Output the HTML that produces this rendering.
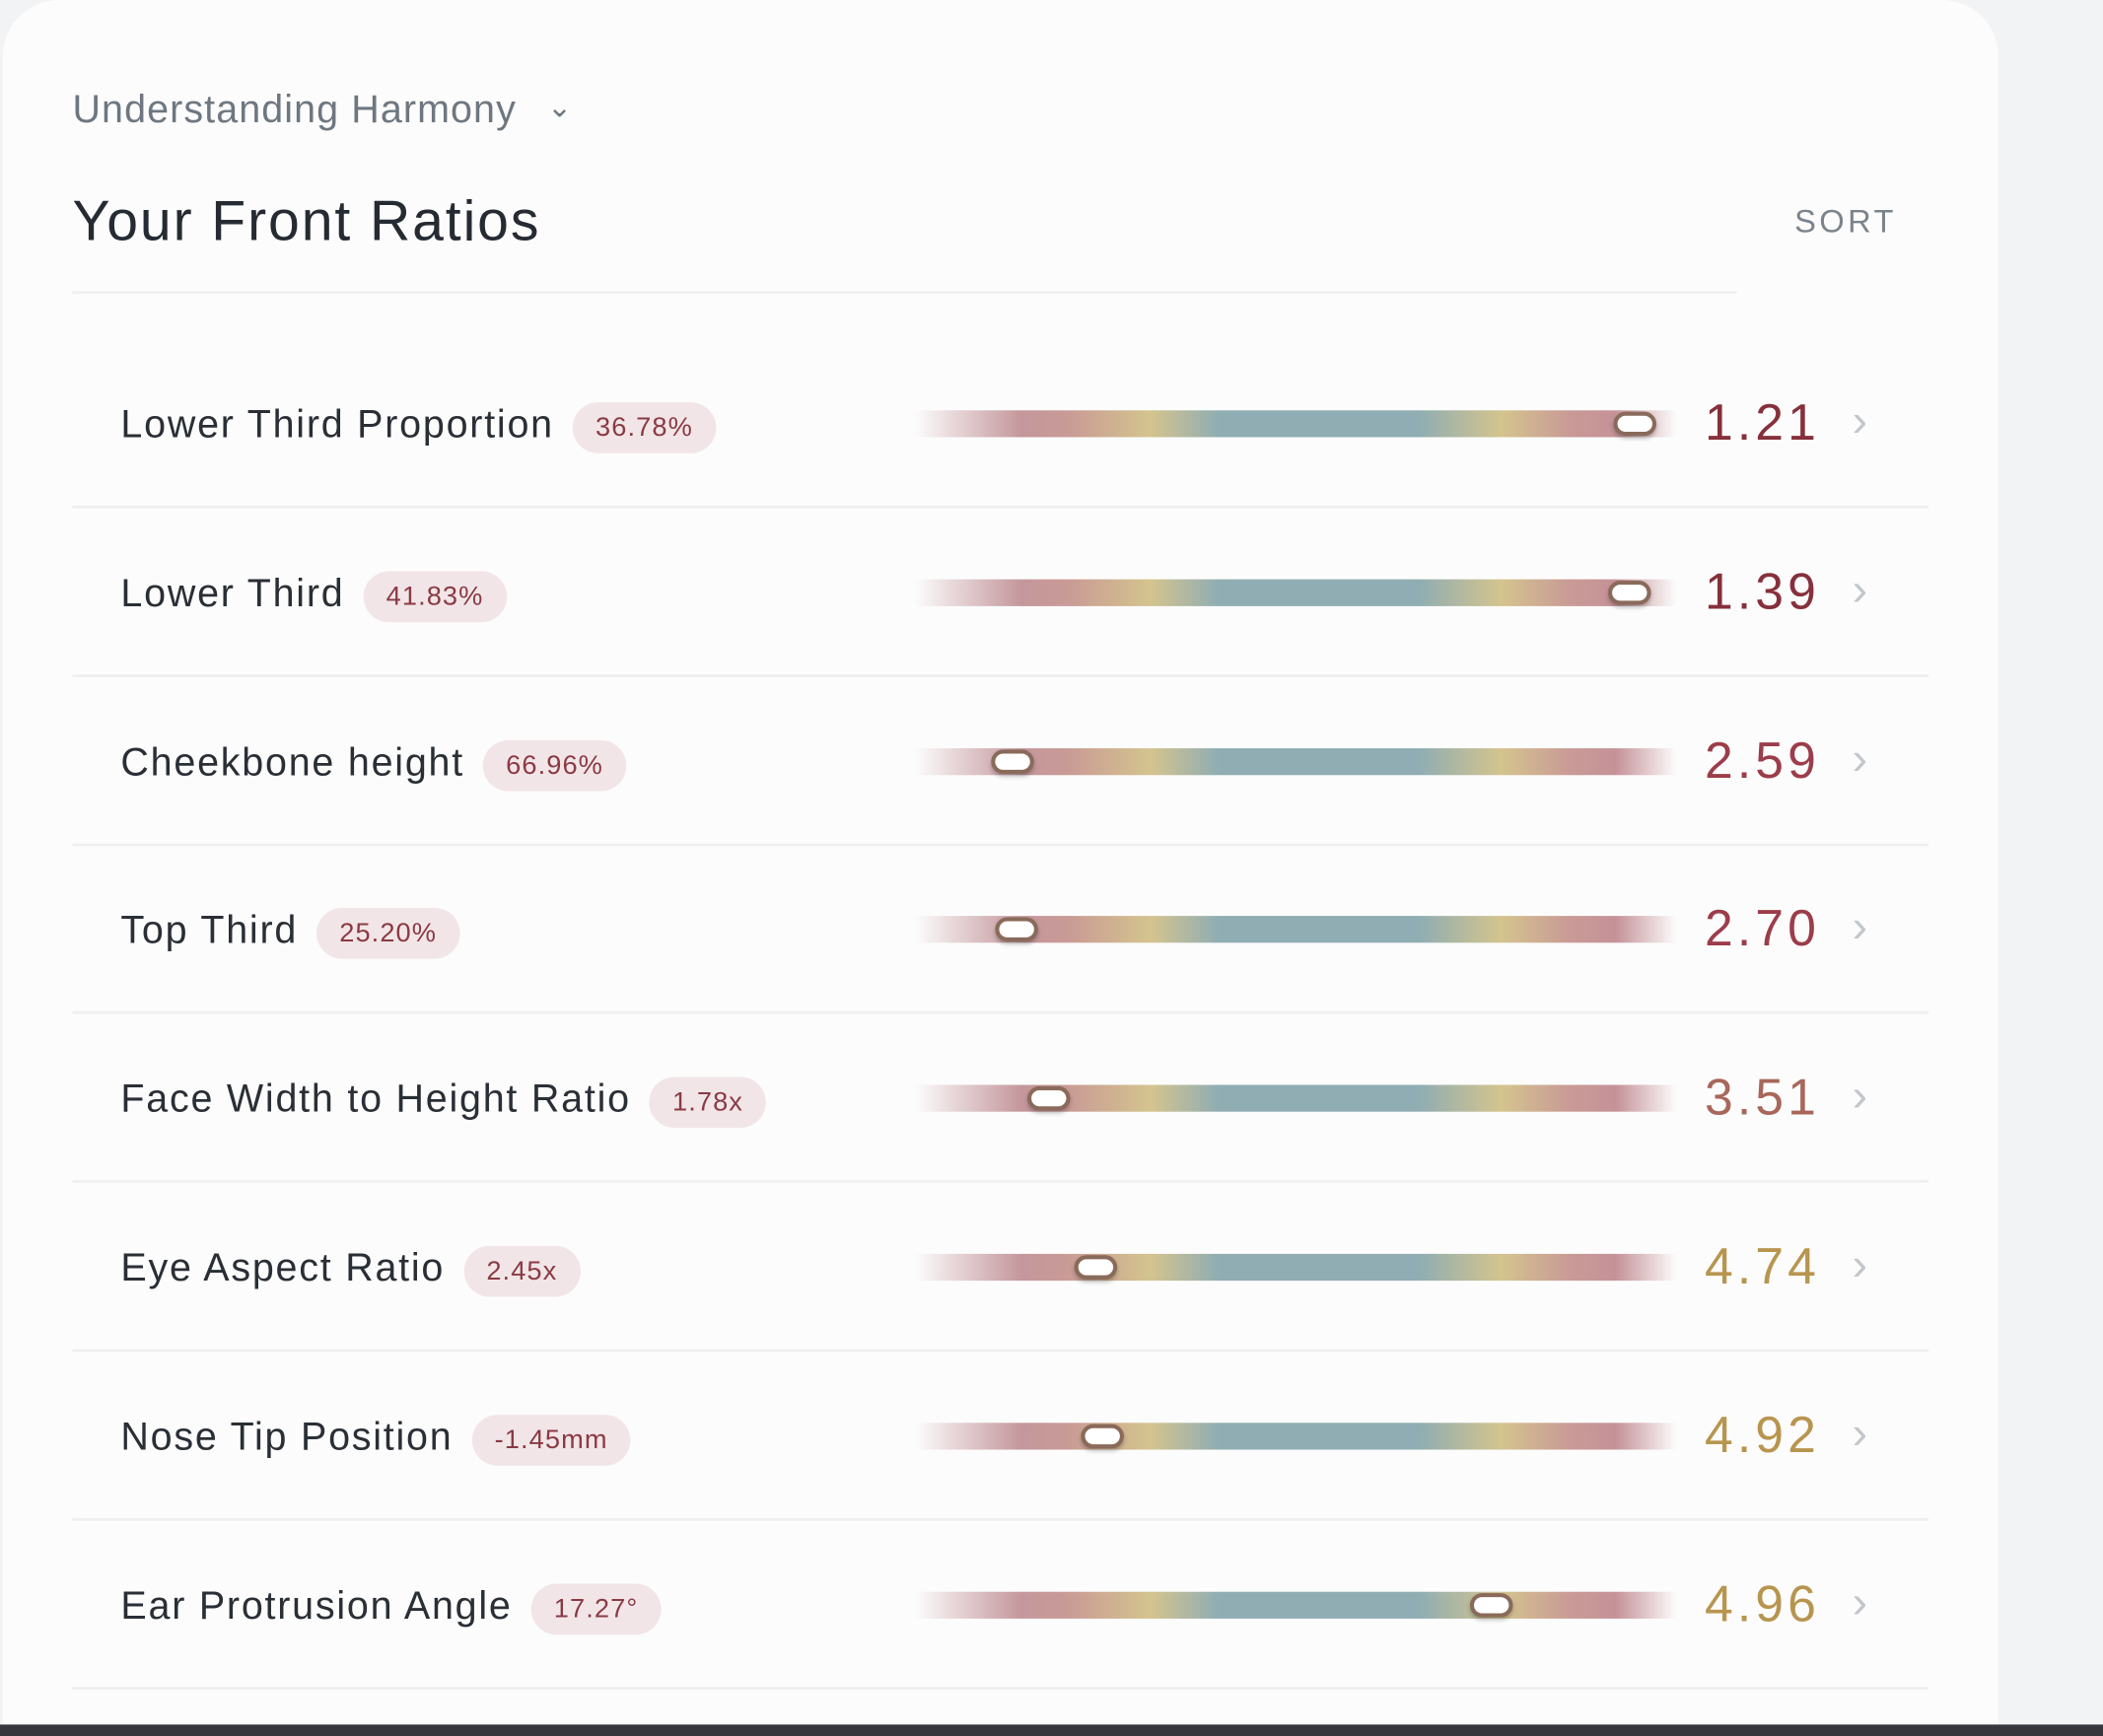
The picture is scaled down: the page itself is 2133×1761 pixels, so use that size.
<!DOCTYPE html>
<html><head><meta charset="utf-8"><style>
html,body{margin:0;padding:0;}
html{width:2133px;height:1761px;overflow:hidden;}
body{width:2133px;height:1761px;overflow:hidden;background:#f2f3f5;position:relative;font-family:"Liberation Sans",sans-serif;}
#w{position:absolute;left:0;top:0;width:1568px;height:1295px;overflow:hidden;transform:scale(1.36033);transform-origin:0 0;}
.card{position:absolute;left:2px;top:0px;width:1488px;height:1330px;background:#fcfcfc;border-radius:42px;}
.bot{position:absolute;left:0;top:1286px;width:1568px;height:9px;background:#36363c;}
.t{position:absolute;white-space:nowrap;}
.hd{left:54px;top:66px;font-size:29px;color:#6e7780;letter-spacing:0.8px;}
.h1{left:54px;top:141px;font-size:42px;color:#262b33;letter-spacing:1.4px;}
.sort{left:1338px;top:152px;font-size:24px;letter-spacing:2.5px;color:#7b848c;}
.dv{position:absolute;height:2px;background:#efefef;}
.row{position:absolute;left:0;width:1568px;height:40px;}
.lab{position:absolute;left:90px;top:1px;height:40px;line-height:40px;font-size:29px;color:#2a2f36;white-space:nowrap;letter-spacing:1.3px;}
.pill{display:inline-block;vertical-align:middle;margin-left:14px;height:38px;line-height:38px;padding:0 17px;border-radius:19px;background:#f2e5e7;color:#8a3a44;font-size:20px;letter-spacing:.8px;position:relative;top:1px;}
.bar{position:absolute;left:682px;top:10px;width:568px;height:20px;background:linear-gradient(90deg,rgba(200,150,158,0) 0%,#c4979c 14%,#c99a96 20%,#d4c48e 31%,#8fadb3 40%,#8fadb3 66%,#d4c48e 77%,#c99a96 86%,#c59298 92%,rgba(200,150,158,0) 100%);}
.knob{position:absolute;top:11px;width:26px;height:12px;border:3px solid #8a6a5a;border-radius:10px;background:#fff;box-shadow:0 2px 3px rgba(0,0,0,.25);}
.val{position:absolute;right:211px;top:-4px;font-size:38px;letter-spacing:3px;line-height:48px;}
.chev{position:absolute;left:1381px;top:0px;font-size:34px;color:#c3c7cb;line-height:36px;}
</style></head><body><div id="w">
<div class="card"></div>
<div class="t hd">Understanding Harmony <span style="font-size:22px;margin-left:14px;position:relative;top:-4px">&#8964;</span></div>
<div class="t h1">Your Front Ratios</div>
<div class="t sort">SORT</div>
<div class="dv" style="left:54px;top:217px;width:1241px"></div>

<div class="row" style="top:296px"><div class="lab">Lower Third Proportion<span class="pill">36.78%</span></div><div class="bar"></div><div class="knob" style="left:1203px"></div><div class="val" style="color:#86303b">1.21</div><div class="chev">›</div></div>
<div class="dv" style="left:54px;top:377px;width:1384px"></div>
<div class="row" style="top:422px"><div class="lab">Lower Third<span class="pill">41.83%</span></div><div class="bar"></div><div class="knob" style="left:1199px"></div><div class="val" style="color:#86303b">1.39</div><div class="chev">›</div></div>
<div class="dv" style="left:54px;top:503px;width:1384px"></div>
<div class="row" style="top:548px"><div class="lab">Cheekbone height<span class="pill">66.96%</span></div><div class="bar"></div><div class="knob" style="left:739px"></div><div class="val" style="color:#9c3d4a">2.59</div><div class="chev">›</div></div>
<div class="dv" style="left:54px;top:629px;width:1384px"></div>
<div class="row" style="top:673px"><div class="lab">Top Third<span class="pill">25.20%</span></div><div class="bar"></div><div class="knob" style="left:742px"></div><div class="val" style="color:#9c3d4a">2.70</div><div class="chev">›</div></div>
<div class="dv" style="left:54px;top:754px;width:1384px"></div>
<div class="row" style="top:799px"><div class="lab">Face Width to Height Ratio<span class="pill">1.78x</span></div><div class="bar"></div><div class="knob" style="left:766px"></div><div class="val" style="color:#a8675a">3.51</div><div class="chev">›</div></div>
<div class="dv" style="left:54px;top:880px;width:1384px"></div>
<div class="row" style="top:925px"><div class="lab">Eye Aspect Ratio<span class="pill">2.45x</span></div><div class="bar"></div><div class="knob" style="left:801px"></div><div class="val" style="color:#b8954f">4.74</div><div class="chev">›</div></div>
<div class="dv" style="left:54px;top:1006px;width:1384px"></div>
<div class="row" style="top:1051px"><div class="lab">Nose Tip Position<span class="pill">-1.45mm</span></div><div class="bar"></div><div class="knob" style="left:806px"></div><div class="val" style="color:#b8954f">4.92</div><div class="chev">›</div></div>
<div class="dv" style="left:54px;top:1132px;width:1384px"></div>
<div class="row" style="top:1177px"><div class="lab">Ear Protrusion Angle<span class="pill">17.27°</span></div><div class="bar"></div><div class="knob" style="left:1096px"></div><div class="val" style="color:#b8954f">4.96</div><div class="chev">›</div></div>
<div class="dv" style="left:54px;top:1258px;width:1384px"></div>
<div class="bot"></div>
</div></body></html>
